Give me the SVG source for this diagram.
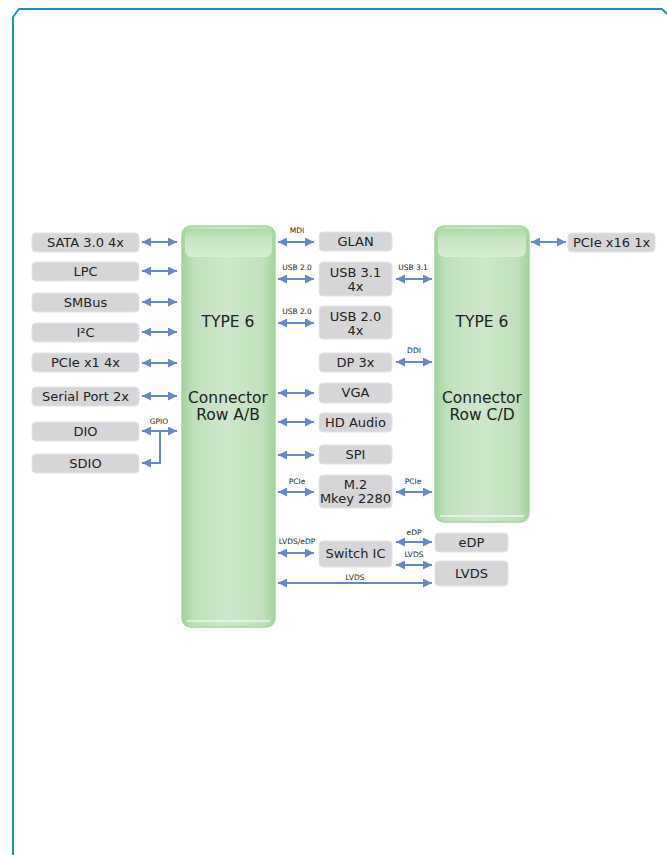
<svg xmlns="http://www.w3.org/2000/svg" width="667" height="855" viewBox="0 0 667 855">
<defs>
<linearGradient id="gb" x1="0" y1="0" x2="1" y2="0">
<stop offset="0" stop-color="#9fd49a"/>
<stop offset="0.12" stop-color="#bfe0ba"/>
<stop offset="0.5" stop-color="#cfe7cc"/>
<stop offset="0.88" stop-color="#bfe0ba"/>
<stop offset="1" stop-color="#9fd49a"/>
</linearGradient>
<linearGradient id="gloss" x1="0" y1="0" x2="0" y2="1">
<stop offset="0" stop-color="#a8d9a2"/>
<stop offset="0.3" stop-color="#c4e4bf"/>
<stop offset="1" stop-color="#d8eed5"/>
</linearGradient>
<marker id="ah" viewBox="0 0 10 10" refX="10" refY="5" markerWidth="9" markerHeight="9" markerUnits="userSpaceOnUse" orient="auto-start-reverse">
<path d="M0,0 L10,5 L0,10 z" fill="#6688c8"/>
</marker>
<style>
.box{fill:#d6d6d8;stroke:#e4e4e6;stroke-width:1}
.t{font-family:"DejaVu Sans",Verdana,sans-serif;font-size:13px;fill:#222;text-anchor:middle}
.tb{font-family:"DejaVu Sans",Verdana,sans-serif;font-size:15.5px;fill:#222;text-anchor:middle}
.s{font-family:"DejaVu Sans",Verdana,sans-serif;font-size:7.5px;fill:#222;text-anchor:middle}
.a{stroke:#6688c8;stroke-width:2;fill:none;marker-start:url(#ah);marker-end:url(#ah)}
.a1{stroke:#6688c8;stroke-width:2;fill:none;marker-end:url(#ah)}
.blk{fill:url(#gb);stroke:#a5d6a0;stroke-width:1.5}
</style>
</defs>
<rect width="667" height="855" fill="#ffffff"/>
<path d="M13,855 L13,17 L19,9 L662,9 L667,14" fill="none" stroke="#1a8fd0" stroke-width="2"/>

<g id="rowAB">
<rect class="blk" x="182" y="226" width="93" height="401" rx="9"/>
<rect x="185" y="229" width="87" height="28" rx="7" fill="url(#gloss)"/>
<path d="M187,621 L270,621" stroke="#eef7ec" stroke-width="1.5"/>
<text class="tb" x="228" y="327">TYPE 6</text>
<text class="tb" x="228" y="403">Connector</text>
<text class="tb" x="228" y="420">Row A/B</text>
</g>
<g id="rowCD">
<rect class="blk" x="435" y="226" width="94" height="296" rx="9"/>
<rect x="438" y="229" width="88" height="28" rx="7" fill="url(#gloss)"/>
<path d="M440,516 L524,516" stroke="#eef7ec" stroke-width="1.5"/>
<text class="tb" x="482" y="327">TYPE 6</text>
<text class="tb" x="482" y="403">Connector</text>
<text class="tb" x="482" y="420">Row C/D</text>
</g>

<g id="sata"><rect class="box" x="32" y="233" width="107" height="19" rx="4"/><text class="t" x="85.5" y="247">SATA 3.0 4x</text></g>
<g id="lpc"><rect class="box" x="32" y="262" width="107" height="19" rx="4"/><text class="t" x="85.5" y="276">LPC</text></g>
<g id="smbus"><rect class="box" x="32" y="293" width="107" height="19" rx="4"/><text class="t" x="85.5" y="307">SMBus</text></g>
<g id="i2c"><rect class="box" x="32" y="323" width="107" height="19" rx="4"/><text class="t" x="85.5" y="337">I²C</text></g>
<g id="pcie1"><rect class="box" x="32" y="353" width="107" height="19" rx="4"/><text class="t" x="85.5" y="367">PCIe x1 4x</text></g>
<g id="serial"><rect class="box" x="32" y="387" width="107" height="19" rx="4"/><text class="t" x="85.5" y="401">Serial Port 2x</text></g>
<g id="dio"><rect class="box" x="32" y="422" width="107" height="19" rx="4"/><text class="t" x="85.5" y="436">DIO</text></g>
<g id="sdio"><rect class="box" x="32" y="454" width="107" height="19" rx="4"/><text class="t" x="85.5" y="468">SDIO</text></g>

<g id="glan"><rect class="box" x="319" y="232" width="73" height="19" rx="4"/><text class="t" x="355.5" y="246">GLAN</text></g>
<g id="usb31"><rect class="box" x="319" y="262" width="73" height="34" rx="4"/><text class="t" x="355.5" y="277">USB 3.1</text><text class="t" x="355.5" y="291">4x</text></g>
<g id="usb20"><rect class="box" x="319" y="306" width="73" height="33" rx="4"/><text class="t" x="355.5" y="321">USB 2.0</text><text class="t" x="355.5" y="335">4x</text></g>
<g id="dp"><rect class="box" x="319" y="353" width="73" height="19" rx="4"/><text class="t" x="355.5" y="367">DP 3x</text></g>
<g id="vga"><rect class="box" x="319" y="383" width="73" height="20" rx="4"/><text class="t" x="355.5" y="397">VGA</text></g>
<g id="hda"><rect class="box" x="319" y="413" width="73" height="19" rx="4"/><text class="t" x="355.5" y="427">HD Audio</text></g>
<g id="spi"><rect class="box" x="319" y="445" width="73" height="19" rx="4"/><text class="t" x="355.5" y="459">SPI</text></g>
<g id="m2"><rect class="box" x="319" y="475" width="73" height="33" rx="4"/><text class="t" x="355.5" y="489">M.2</text><text class="t" x="355.5" y="503">Mkey 2280</text></g>
<g id="switch"><rect class="box" x="319" y="541" width="73" height="26" rx="4"/><text class="t" x="355.5" y="558">Switch IC</text></g>
<g id="edp"><rect class="box" x="435" y="533" width="73" height="19" rx="4"/><text class="t" x="471.5" y="547">eDP</text></g>
<g id="lvds"><rect class="box" x="435" y="561" width="73" height="25" rx="4"/><text class="t" x="471.5" y="578">LVDS</text></g>
<g id="pcie16"><rect class="box" x="568" y="233" width="87" height="19" rx="4"/><text class="t" x="611.5" y="247">PCIe x16 1x</text></g>

<g id="connectors">
<line class="a" x1="142" y1="242" x2="177" y2="242"/>
<line class="a" x1="142" y1="271" x2="177" y2="271"/>
<line class="a" x1="142" y1="302" x2="177" y2="302"/>
<line class="a" x1="142" y1="332" x2="177" y2="332"/>
<line class="a" x1="142" y1="363" x2="177" y2="363"/>
<line class="a" x1="142" y1="396" x2="177" y2="396"/>
<line class="a" x1="142" y1="431" x2="177" y2="431"/>
<path class="a1" d="M160,431 L160,463 L142,463"/>
<text class="s" x="159" y="424">GPIO</text>

<line class="a" x1="278" y1="242" x2="314" y2="242"/>
<text class="s" x="297" y="233">MDI</text>
<line class="a" x1="278" y1="279" x2="314" y2="279"/>
<text class="s" x="297" y="270">USB 2.0</text>
<line class="a" x1="278" y1="323" x2="314" y2="323"/>
<text class="s" x="297" y="314">USB 2.0</text>
<line class="a" x1="278" y1="393" x2="314" y2="393"/>
<line class="a" x1="278" y1="422" x2="314" y2="422"/>
<line class="a" x1="278" y1="455" x2="314" y2="455"/>
<line class="a" x1="278" y1="492" x2="314" y2="492"/>
<text class="s" x="297" y="484">PCIe</text>
<line class="a" x1="278" y1="553" x2="314" y2="553"/>
<text class="s" x="297" y="544">LVDS/eDP</text>
<line class="a" x1="278" y1="583" x2="432" y2="583"/>
<text class="s" x="355" y="580">LVDS</text>

<line class="a" x1="396" y1="279" x2="432" y2="279"/>
<text class="s" x="413" y="270">USB 3.1</text>
<line class="a" x1="396" y1="362" x2="432" y2="362"/>
<text class="s" x="414" y="353">DDI</text>
<line class="a" x1="396" y1="492" x2="432" y2="492"/>
<text class="s" x="413" y="484">PCIe</text>
<line class="a" x1="396" y1="542" x2="432" y2="542"/>
<text class="s" x="414" y="535">eDP</text>
<line class="a" x1="396" y1="565" x2="432" y2="565"/>
<text class="s" x="414" y="557">LVDS</text>

<line class="a" x1="531" y1="242" x2="566" y2="242"/>
</g>
</svg>
